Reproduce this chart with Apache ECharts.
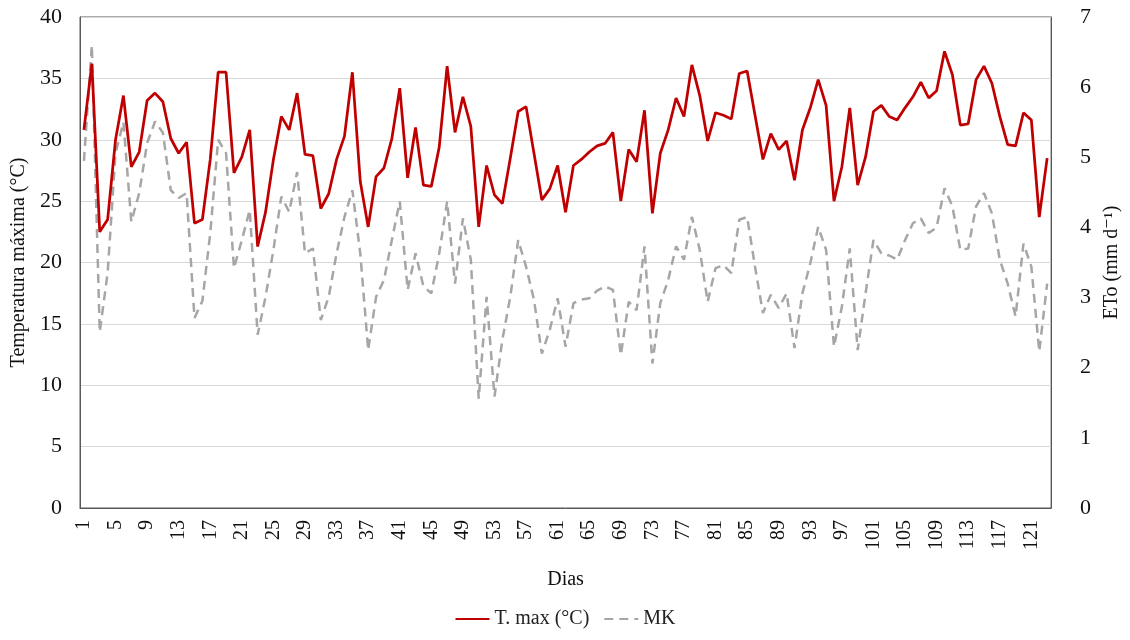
<!DOCTYPE html>
<html>
<head>
<meta charset="utf-8">
<script src="https://cdn.jsdelivr.net/npm/echarts@6/dist/echarts.min.js"></script>
<style>
  html, body { margin: 0; padding: 0; background: #fff; }
  #chart { width: 1130px; height: 640px; }
</style>
</head>
<body>
<div id="chart"></div>
<script>
// Daily maximum temperature (left axis, °C) and reference evapotranspiration MK (right axis, mm/day)
const days = [];
for (let d = 1; d <= 123; d++) days.push(String(d));

const tMax = [
  30.8, 36.2, 22.5, 23.5, 30.0, 33.6, 27.8, 29.0, 33.2, 33.8,
  33.1, 30.1, 28.9, 29.8, 23.2, 23.5, 28.4, 35.5, 35.5, 27.3,
  28.6, 30.8, 21.3, 24.1, 28.4, 31.9, 30.8, 33.8, 28.8, 28.7,
  24.4, 25.6, 28.4, 30.3, 35.5, 26.6, 22.9, 27.0, 27.7, 30.1,
  34.2, 26.9, 31.0, 26.3, 26.2, 29.4, 36.0, 30.6, 33.5, 31.1,
  22.9, 27.9, 25.5, 24.8, 28.5, 32.3, 32.7, 28.9, 25.1, 26.0,
  27.9, 24.1, 27.9, 28.4, 29.0, 29.5, 29.7, 30.6, 25.0, 29.2,
  28.2, 32.4, 24.0, 28.9, 30.8, 33.4, 31.9, 36.1, 33.6, 29.9,
  32.2, 32.0, 31.7, 35.4, 35.6, 32.0, 28.4, 30.5, 29.2, 29.9,
  26.7, 30.8, 32.6, 34.9, 32.8, 25.0, 27.8, 32.6, 26.3, 28.6,
  32.3, 32.8, 31.9, 31.6, 32.6, 33.5, 34.7, 33.4, 34.0, 37.2,
  35.3, 31.2, 31.3, 34.9, 36.0, 34.6, 31.9, 29.6, 29.5, 32.2,
  31.6, 23.7, 28.5
];

const etoMK = [
  4.95, 6.60, 2.51, 3.35, 5.06, 5.50, 4.08, 4.49, 5.20, 5.51,
  5.35, 4.53, 4.42, 4.49, 2.71, 2.95, 3.92, 5.25, 5.06, 3.42,
  3.82, 4.25, 2.47, 3.01, 3.68, 4.44, 4.22, 4.79, 3.63, 3.70,
  2.68, 3.01, 3.63, 4.15, 4.53, 3.63, 2.25, 3.01, 3.25, 3.82,
  4.37, 3.11, 3.63, 3.16, 3.06, 3.63, 4.37, 3.20, 4.13, 3.54,
  1.56, 3.01, 1.59, 2.40, 3.01, 3.82, 3.44, 2.97, 2.20, 2.54,
  2.99, 2.30, 2.92, 2.97, 2.99, 3.10, 3.16, 3.11, 2.18, 2.94,
  2.82, 3.73, 2.06, 2.92, 3.25, 3.73, 3.54, 4.15, 3.68, 2.94,
  3.42, 3.46, 3.35, 4.11, 4.15, 3.44, 2.78, 3.04, 2.85, 3.06,
  2.28, 3.06, 3.49, 4.01, 3.68, 2.30, 2.87, 3.70, 2.25, 3.06,
  3.82, 3.63, 3.60, 3.54, 3.82, 4.06, 4.13, 3.92, 4.00, 4.56,
  4.30, 3.68, 3.70, 4.30, 4.49, 4.20, 3.54, 3.20, 2.73, 3.77,
  3.44, 2.23, 3.20
];

const seriesNames = ['T. max (°C)', 'MK'];
const axisNames = { x: 'Dias', left: 'Temperatura máxima (°C)', right: 'ETo (mm d\u207B\u00B9)' };

const serif = '"Liberation Serif", "DejaVu Serif", serif';
const axisColor = '#595959';

const chart = echarts.init(document.getElementById('chart'), null, { renderer: 'canvas' });
chart.setOption({
  backgroundColor: '#ffffff',
  animation: false,
  grid: {
    left: 80, right: 69, top: 17, bottom: 132,
    show: true, borderColor: axisColor, borderWidth: 1, backgroundColor: 'transparent'
  },
  legend: {
    bottom: 6,
    left: 'center',
    itemWidth: 34,
    itemHeight: 14,
    itemGap: 14,
    // line-only keys: hide the marker dot drawn in the middle of each key
    itemStyle: { opacity: 0 },
    textStyle: { fontFamily: serif, fontSize: 20, color: '#222' },
    data: seriesNames
  },
  xAxis: {
    type: 'category',
    data: days,
    boundaryGap: true,
    name: axisNames.x,
    nameLocation: 'middle',
    nameGap: 62,
    nameTextStyle: { fontFamily: serif, fontSize: 20, color: '#111' },
    axisLine: { show: true, lineStyle: { color: axisColor, width: 1 } },
    axisTick: { show: false },
    axisLabel: {
      interval: 3, rotate: 90, margin: 12,
      fontFamily: serif, fontSize: 20, color: '#111'
    },
    splitLine: { show: false }
  },
  yAxis: [
    {
      type: 'value', min: 0, max: 40, interval: 5,
      name: axisNames.left,
      nameLocation: 'middle',
      nameGap: 50,
      nameTextStyle: { fontFamily: serif, fontSize: 20, color: '#111' },
      axisLine: { show: true, lineStyle: { color: axisColor, width: 1 } },
      axisTick: { show: false },
      axisLabel: { margin: 18, fontFamily: serif, fontSize: 22, color: '#111' },
      splitLine: { show: true, lineStyle: { color: '#d9d9d9', width: 1 } }
    },
    {
      type: 'value', min: 0, max: 7, interval: 1,
      name: axisNames.right,
      nameLocation: 'middle',
      nameGap: 44,
      nameTextStyle: { fontFamily: serif, fontSize: 20, color: '#111' },
      axisLine: { show: true, lineStyle: { color: axisColor, width: 1 } },
      axisTick: { show: false },
      axisLabel: { margin: 29, fontFamily: serif, fontSize: 22, color: '#111' },
      splitLine: { show: false }
    }
  ],
  series: [
    {
      name: seriesNames[0],
      type: 'line',
      yAxisIndex: 0,
      data: tMax,
      symbol: 'none',
      lineStyle: { color: '#c00000', width: 2.75 },
      itemStyle: { color: '#c00000' },
      z: 3
    },
    {
      name: seriesNames[1],
      type: 'line',
      yAxisIndex: 1,
      data: etoMK,
      symbol: 'none',
      lineStyle: { color: '#a6a6a6', width: 2.5, type: [9, 6] },
      itemStyle: { color: '#a6a6a6' },
      z: 2
    }
  ]
});
</script>
</body>
</html>
